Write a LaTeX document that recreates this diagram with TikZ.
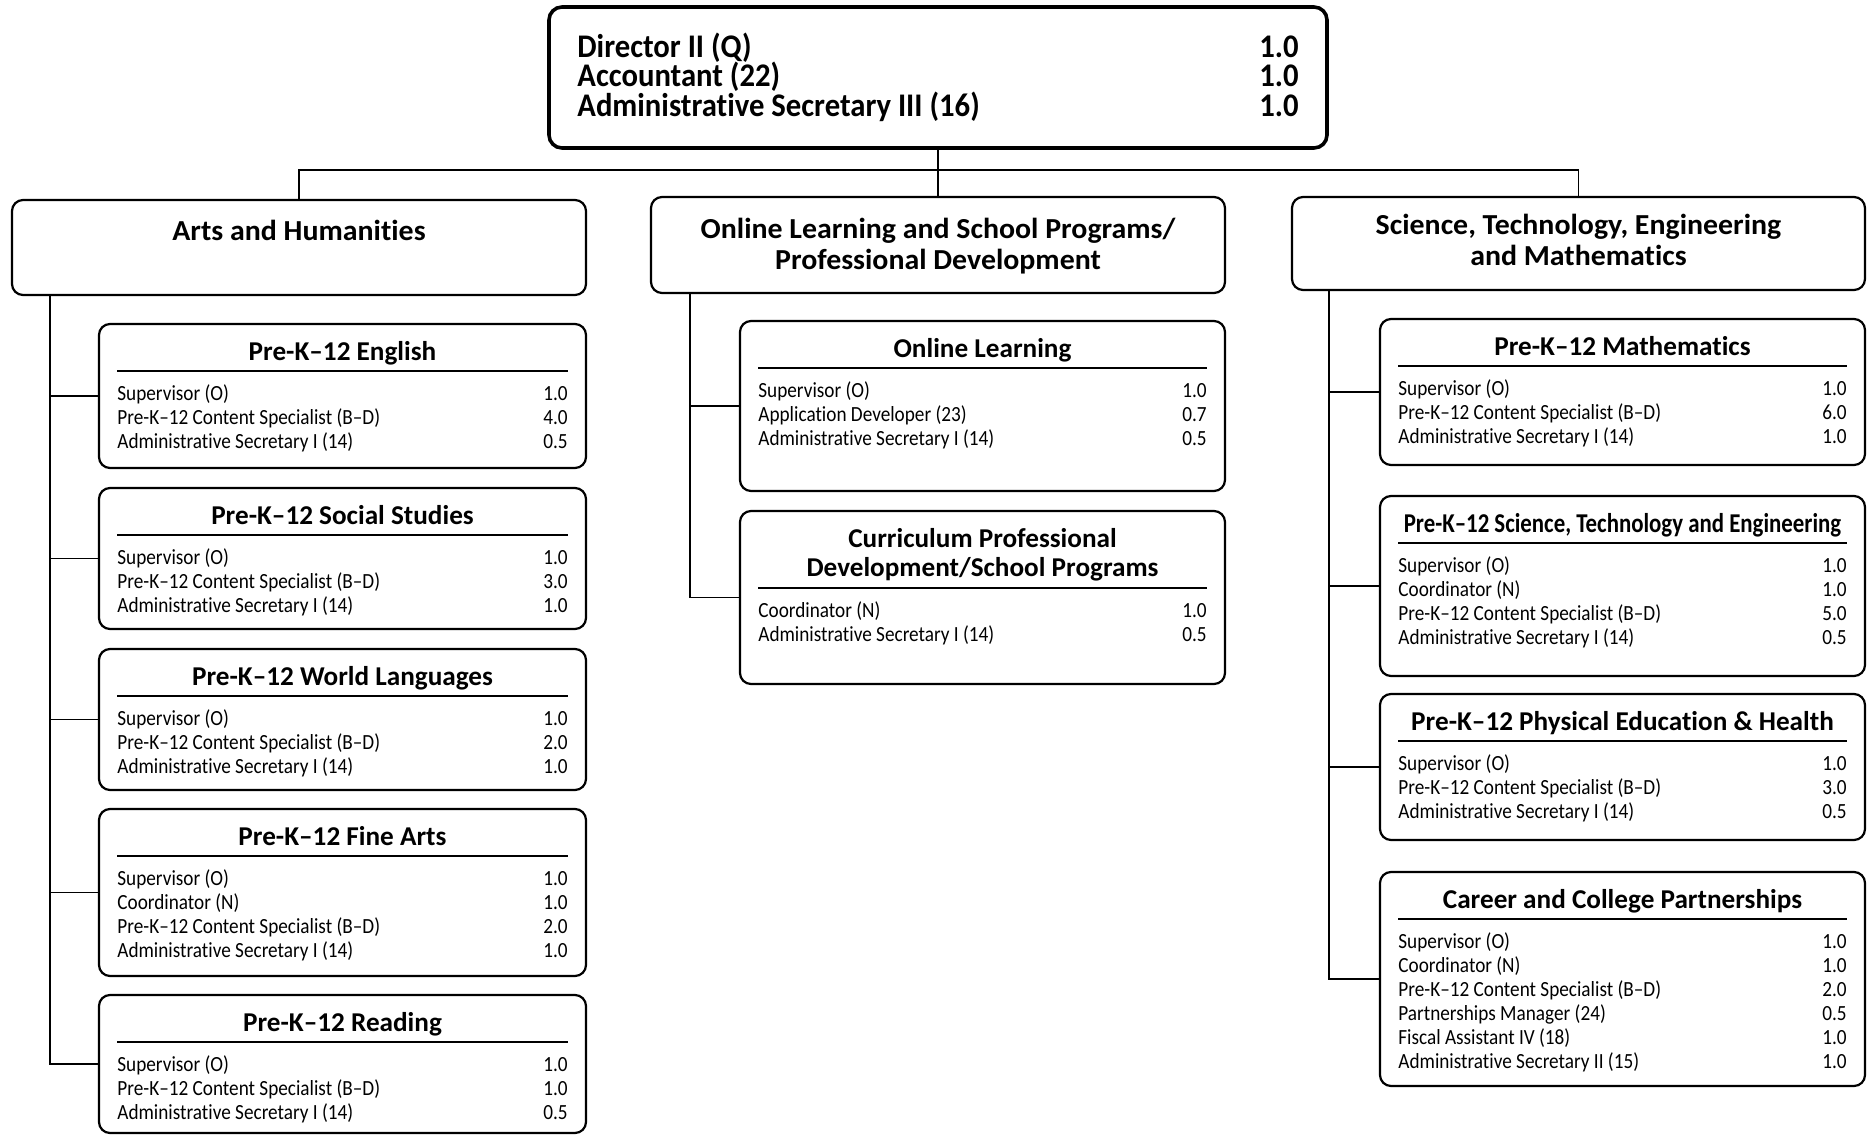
\documentclass[tikz,border=0pt]{standalone}
\usepackage{fontspec}
\setmainfont{Carlito}[FakeStretch=0.89, Ligatures=NoCommon]
\newfontfamily\headfont{Carlito}[FakeStretch=1.0, Ligatures=NoCommon]
\newfontfamily\lvfont{Carlito}[FakeStretch=1.03, Ligatures=NoCommon]
\newfontfamily\topfont{Carlito}[FakeStretch=0.93, Ligatures=NoCommon]
\newfontfamily\narrowhead{Carlito}[FakeStretch=0.84, Ligatures=NoCommon]
\usetikzlibrary{fit,calc}

\tikzset{
  subbox/.style={draw, line width=1.1pt, rounded corners=5.5pt, inner sep=0pt},
  lvbox/.style={draw, line width=1.1pt, rounded corners=5.5pt, inner sep=0pt},
  topbox/.style={draw, line width=1.8pt, rounded corners=6.5pt, inner sep=0pt},
  conn/.style={line width=0.8pt},
  rulestyle/.style={line width=0.55pt},
  subtitle/.style={font=\headfont\bfseries\fontsize{13.6}{14}\selectfont, anchor=base, inner sep=0pt},
  rowl/.style={font=\fontsize{10.8}{12}\selectfont, anchor=base west, inner sep=0pt},
  rowr/.style={font=\fontsize{10.8}{12}\selectfont, anchor=base east, inner sep=0pt},
  lvtitle/.style={font=\lvfont\bfseries\fontsize{14.5}{15.5}\selectfont, align=center, inner sep=0pt},
  toptext/.style={font=\topfont\bfseries\fontsize{16.5}{16}\selectfont, inner sep=0pt},
}

% #1 name, #2 x1, #3 y1, #4 x2, #5 y2, #6 rule offset, #7 rows
\newcommand\unitbox[7]{%
  \node[subbox, fit={(#2,#3) (#4,#5)}] (#1) {};
  \draw[rulestyle] ({#2+18},{#3+#6}) -- ({#4-18},{#3+#6});
  \foreach \lab/\val [count=\i from 0] in {#7} {
    \node[rowl] (#1-l\i) at ({#2+18},{#3+#6+29+24*\i}) {\lab};
    \node[rowr] (#1-r\i) at ({#4-18},{#3+#6+29+24*\i}) {\val};
  }%
}

\begin{document}
\begin{tikzpicture}[x=0.5pt, y=-0.5pt]
\useasboundingbox[fill=white] (0,0) rectangle (1874,1135);

% top box
\node[topbox, fit={(549,7) (1327,148)}] (top) {};
\node[toptext, anchor=base west] (top-l0) at (577,57) {Director II (Q)};
\node[toptext, anchor=base east] (top-r0) at (1299,57) {1.0};
\node[toptext, anchor=base west] (top-l1) at (577,86.5) {Accountant (22)};
\node[toptext, anchor=base east] (top-r1) at (1299,86.5) {1.0};
\node[toptext, anchor=base west] (top-l2) at (577,116) {Administrative Secretary III (16)};
\node[toptext, anchor=base east] (top-r2) at (1299,116) {1.0};

% level 2 boxes
\node[lvbox, fit={(12,200) (586,295)}] (arts) {};
\node[lvtitle, anchor=base] (arts-t) at (299,240) {Arts and Humanities};
\node[lvbox, fit={(651,197) (1225,293)}] (onl) {};
\node[lvtitle, anchor=center] (onl-t) at (938,246) {Online Learning and School Programs/\\Professional Development};
\node[lvbox, fit={(1292,197) (1865,290)}] (stem) {};
\node[lvtitle, anchor=center] (stem-t) at (1578.5,240) {Science, Technology, Engineering\\and Mathematics};

% connectors from top
\coordinate (hub) at (938,170);
\draw[conn] (top.south) -- (hub);
\draw[conn] (arts.north) |- (hub) -| (stem.north);
\draw[conn] (hub) -- (onl.north);

% left column
\unitbox{eng}{99}{324}{586}{468}{47}{Supervisor (O)/1.0, Pre-K–12 Content Specialist (B–D)/4.0, Administrative Secretary I (14)/0.5}
\node[subtitle] (eng-t) at (342.5,360) {Pre-K–12 English};
\unitbox{soc}{99}{488}{586}{629}{47}{Supervisor (O)/1.0, Pre-K–12 Content Specialist (B–D)/3.0, Administrative Secretary I (14)/1.0}
\node[subtitle] (soc-t) at (342.5,524) {Pre-K–12 Social Studies};
\unitbox{wl}{99}{649}{586}{790}{47}{Supervisor (O)/1.0, Pre-K–12 Content Specialist (B–D)/2.0, Administrative Secretary I (14)/1.0}
\node[subtitle] (wl-t) at (342.5,685) {Pre-K–12 World Languages};
\unitbox{fa}{99}{809}{586}{976}{47}{Supervisor (O)/1.0, Coordinator (N)/1.0, Pre-K–12 Content Specialist (B–D)/2.0, Administrative Secretary I (14)/1.0}
\node[subtitle] (fa-t) at (342.5,845) {Pre-K–12 Fine Arts};
\unitbox{rd}{99}{995}{586}{1133}{47}{Supervisor (O)/1.0, Pre-K–12 Content Specialist (B–D)/1.0, Administrative Secretary I (14)/0.5}
\node[subtitle] (rd-t) at (342.5,1031) {Pre-K–12 Reading};

% middle column
\unitbox{ol}{740}{321}{1225}{491}{47}{Supervisor (O)/1.0, Application Developer (23)/0.7, Administrative Secretary I (14)/0.5}
\node[subtitle] (ol-t) at (982.5,357) {Online Learning};
\unitbox{cpd}{740}{511}{1225}{684}{77}{Coordinator (N)/1.0, Administrative Secretary I (14)/0.5}
\node[subtitle, anchor=center, align=center, font=\headfont\bfseries\fontsize{13.6}{14.5}\selectfont] (cpd-t) at (982.5,555) {Curriculum Professional\\Development/School Programs};

% right column
\unitbox{math}{1380}{319}{1865}{465}{47}{Supervisor (O)/1.0, Pre-K–12 Content Specialist (B–D)/6.0, Administrative Secretary I (14)/1.0}
\node[subtitle] (math-t) at (1622.5,355) {Pre-K–12 Mathematics};
\unitbox{ste}{1380}{496}{1865}{676}{47}{Supervisor (O)/1.0, Coordinator (N)/1.0, Pre-K–12 Content Specialist (B–D)/5.0, Administrative Secretary I (14)/0.5}
\node[subtitle, font=\narrowhead\bfseries\fontsize{13.6}{14}\selectfont] (ste-t) at (1622.5,532) {Pre-K–12 Science, Technology and Engineering};
\unitbox{pe}{1380}{694}{1865}{840}{47}{Supervisor (O)/1.0, Pre-K–12 Content Specialist (B–D)/3.0, Administrative Secretary I (14)/0.5}
\node[subtitle] (pe-t) at (1622.5,730) {Pre-K–12 Physical Education \& Health};
\unitbox{ccp}{1380}{872}{1865}{1086}{47}{Supervisor (O)/1.0, Coordinator (N)/1.0, Pre-K–12 Content Specialist (B–D)/2.0, Partnerships Manager (24)/0.5, Fiscal Assistant IV (18)/1.0, Administrative Secretary II (15)/1.0}
\node[subtitle] (ccp-t) at (1622.5,908) {Career and College Partnerships};

% spines
\coordinate (lsp) at (50,295);
\draw[conn] (lsp) |- (rd.west);
\foreach \b in {eng,soc,wl,fa} \draw[conn] (lsp |- \b.west) -- (\b.west);
\coordinate (msp) at (690,293);
\draw[conn] (msp) |- (cpd.west);
\draw[conn] (msp |- ol.west) -- (ol.west);
\coordinate (rsp) at (1329,290);
\draw[conn] (rsp) |- (ccp.west);
\foreach \b in {math,ste,pe} \draw[conn] (rsp |- \b.west) -- (\b.west);
\end{tikzpicture}
\end{document}
